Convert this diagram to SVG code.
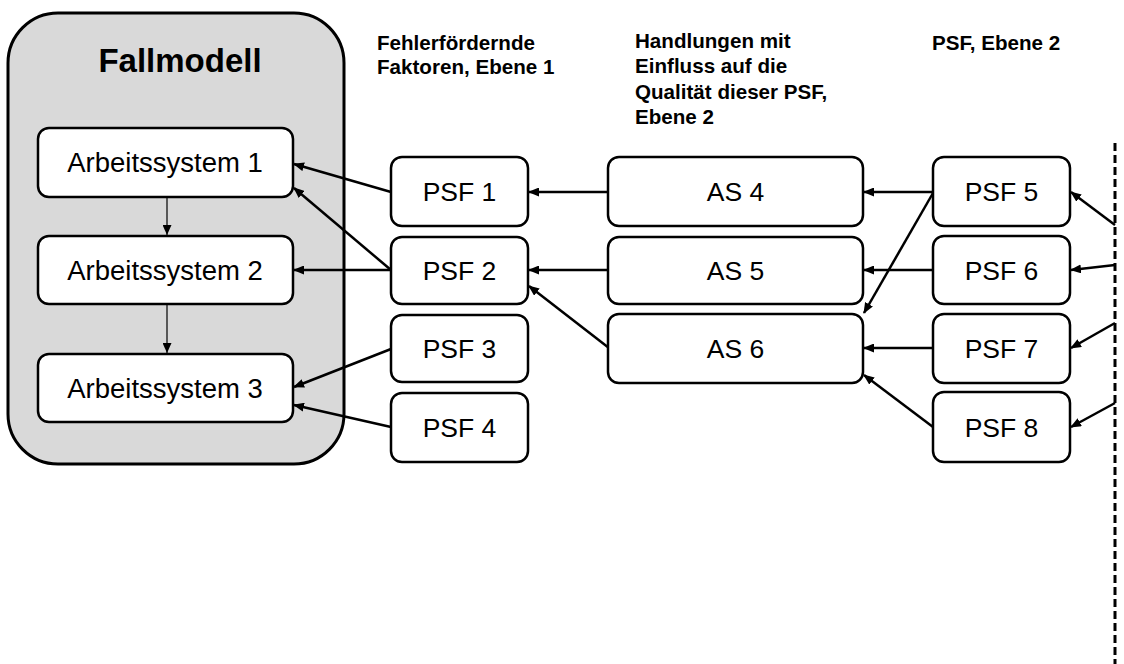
<svg xmlns="http://www.w3.org/2000/svg" width="1124" height="664" viewBox="0 0 1124 664">
  <style>
    .box { fill: #ffffff; stroke: #000000; stroke-width: 2.5; }
    .group { fill: #d9d9d9; stroke: #000000; stroke-width: 3; }
    .lbl { font-family: "Liberation Sans", Arial, sans-serif; font-size: 26.5px; fill: #000000; text-anchor: middle; }
    .lbl.wide { font-size: 27.5px; }
    .head { font-family: "Liberation Sans", Arial, sans-serif; font-size: 20.6px; font-weight: bold; fill: #000000; }
    .title { font-family: "Liberation Sans", Arial, sans-serif; font-size: 33px; font-weight: bold; fill: #000000; text-anchor: middle; }
    .conn { stroke: #000000; stroke-width: 2.5; fill: none; marker-end: url(#arrow); }
    .flow { stroke: #000000; stroke-width: 1.2; fill: none; marker-end: url(#arrowSmall); }
    .border { stroke: #000000; stroke-width: 3; stroke-dasharray: 8 4; fill: none; }
  </style>
  <defs>
    <marker id="arrow" markerUnits="userSpaceOnUse" markerWidth="11" markerHeight="9" refX="10" refY="4.5" orient="auto">
      <path d="M0,0 L11,4.5 L0,9 z" fill="#000000"/>
    </marker>
    <marker id="arrowSmall" markerUnits="userSpaceOnUse" markerWidth="10" markerHeight="9" refX="10" refY="4.5" orient="auto">
      <path d="M0,0 L10,4.5 L0,9 z" fill="#000000"/>
    </marker>
  </defs>

  <rect width="1124" height="664" fill="#ffffff"/>

  <!-- case model container -->
  <g id="fallmodell">
    <rect class="group" x="8" y="13" width="336" height="451" rx="50" ry="50"/>
    <text class="title" x="180" y="72">Fallmodell</text>
  </g>

  <!-- column headings -->
  <g id="headings">
    <text class="head" x="377" y="50">Fehlerfördernde</text>
    <text class="head" x="377" y="74">Faktoren, Ebene 1</text>
    <text class="head" x="635" y="48">Handlungen mit</text>
    <text class="head" x="635" y="73">Einfluss auf die</text>
    <text class="head" x="635" y="99">Qualität dieser PSF,</text>
    <text class="head" x="635" y="124">Ebene 2</text>
    <text class="head" x="932" y="50">PSF, Ebene 2</text>
  </g>

  <!-- system boundary -->
  <line id="boundary" class="border" x1="1115" y1="143" x2="1115" y2="664"/>

  <!-- connectors -->
  <g id="connectors">
    <line class="flow" x1="167" y1="198" x2="167" y2="235"/>
    <line class="flow" x1="167" y1="305" x2="167" y2="353"/>

    <line class="conn" x1="391" y1="192" x2="294" y2="164"/>
    <line class="conn" x1="391" y1="270" x2="294" y2="188"/>
    <line class="conn" x1="391" y1="270" x2="294" y2="270"/>
    <line class="conn" x1="391" y1="349" x2="294" y2="387"/>
    <line class="conn" x1="391" y1="427" x2="294" y2="405"/>

    <line class="conn" x1="608" y1="192" x2="529" y2="192"/>
    <line class="conn" x1="608" y1="270" x2="529" y2="270"/>
    <line class="conn" x1="609" y1="348" x2="529" y2="286"/>

    <line class="conn" x1="933" y1="192" x2="864" y2="192"/>
    <line class="conn" x1="933" y1="193" x2="864" y2="313"/>
    <line class="conn" x1="933" y1="270" x2="864" y2="270"/>
    <line class="conn" x1="933" y1="348" x2="864" y2="348"/>
    <line class="conn" x1="933" y1="427" x2="864" y2="375"/>

    <line class="conn" x1="1115" y1="225" x2="1071" y2="192"/>
    <line class="conn" x1="1115" y1="265" x2="1071" y2="270"/>
    <line class="conn" x1="1115" y1="323" x2="1071" y2="348"/>
    <line class="conn" x1="1115" y1="403" x2="1071" y2="427"/>
  </g>

  <!-- work systems inside the case model -->
  <g id="as1">
    <rect class="box" x="38" y="128" width="255" height="69" rx="11"/>
    <text class="lbl wide" x="165" y="172">Arbeitssystem 1</text>
  </g>
  <g id="as2">
    <rect class="box" x="38" y="236" width="255" height="68" rx="11"/>
    <text class="lbl wide" x="165" y="280">Arbeitssystem 2</text>
  </g>
  <g id="as3">
    <rect class="box" x="38" y="354" width="255" height="68" rx="11"/>
    <text class="lbl wide" x="165" y="398">Arbeitssystem 3</text>
  </g>

  <!-- level 1 factors -->
  <g id="psf1">
    <rect class="box" x="391" y="157" width="137" height="69" rx="11"/>
    <text class="lbl" x="459.5" y="201">PSF 1</text>
  </g>
  <g id="psf2">
    <rect class="box" x="391" y="237" width="137" height="67" rx="11"/>
    <text class="lbl" x="459.5" y="280">PSF 2</text>
  </g>
  <g id="psf3">
    <rect class="box" x="391" y="315" width="137" height="67" rx="11"/>
    <text class="lbl" x="459.5" y="358">PSF 3</text>
  </g>
  <g id="psf4">
    <rect class="box" x="391" y="393" width="137" height="69" rx="11"/>
    <text class="lbl" x="459.5" y="437">PSF 4</text>
  </g>

  <!-- level 2 actions -->
  <g id="as4">
    <rect class="box" x="608" y="157" width="255" height="69" rx="11"/>
    <text class="lbl" x="735.5" y="201">AS 4</text>
  </g>
  <g id="as5">
    <rect class="box" x="608" y="237" width="255" height="67" rx="11"/>
    <text class="lbl" x="735.5" y="280">AS 5</text>
  </g>
  <g id="as6">
    <rect class="box" x="608" y="314" width="255" height="69" rx="11"/>
    <text class="lbl" x="735.5" y="358">AS 6</text>
  </g>

  <!-- level 2 factors -->
  <g id="psf5">
    <rect class="box" x="933" y="157" width="137" height="69" rx="11"/>
    <text class="lbl" x="1001.5" y="201">PSF 5</text>
  </g>
  <g id="psf6">
    <rect class="box" x="933" y="236" width="137" height="68" rx="11"/>
    <text class="lbl" x="1001.5" y="280">PSF 6</text>
  </g>
  <g id="psf7">
    <rect class="box" x="933" y="314" width="137" height="69" rx="11"/>
    <text class="lbl" x="1001.5" y="358">PSF 7</text>
  </g>
  <g id="psf8">
    <rect class="box" x="933" y="392" width="137" height="70" rx="11"/>
    <text class="lbl" x="1001.5" y="437">PSF 8</text>
  </g>
</svg>
